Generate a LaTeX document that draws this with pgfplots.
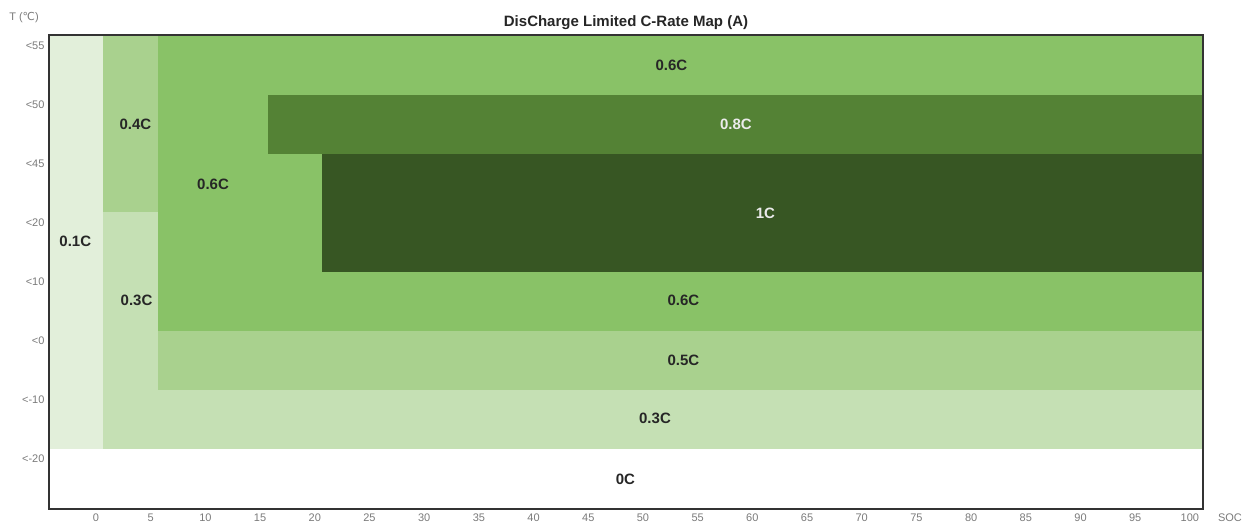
\documentclass[border=0pt]{standalone}
\usepackage{fontspec}
\setmainfont{Liberation Sans}
\newfontfamily\dejavu{DejaVu Sans}
\usepackage{pgfplots}
\pgfplotsset{compat=1.18}
\definecolor{cA}{HTML}{E2EFDA}
\definecolor{cB}{HTML}{A9D18E}
\definecolor{cC}{HTML}{C5E0B4}
\definecolor{cD}{HTML}{89C267}
\definecolor{cE}{HTML}{548235}
\definecolor{cF}{HTML}{375623}
\definecolor{tk}{HTML}{7A7A7A}
\tikzset{lab/.style={font=\fontsize{15}{18}\selectfont\bfseries, text=black!85},
         wlab/.style={font=\fontsize{15}{18}\selectfont\bfseries, text=white!92!black}}
\begin{document}
\begin{tikzpicture}[x=1pt,y=1pt]
\path[use as bounding box] (0,0) rectangle (1246,527);
\begin{axis}[
  at={(49pt,18pt)}, anchor=south west,
  scale only axis, width=1154pt, height=474pt,
  xmin=-4.3, xmax=101.2, ymin=-0.85, ymax=7.19,
  xtick={0,5,...,100}, ytick={0,1,...,7},
  yticklabels={{<-20},{<-10},{<0},{<10},{<20},{<45},{<50},{<55}},
  major tick length=0pt,
  /pgf/number format/assume math mode=true,
  tick label style={font=\fontsize{11}{13}\selectfont, text=tk},
  xticklabel style={yshift=-1pt},
  yticklabel style={xshift=-1pt},
  axis on top,
  axis line style={draw=black!80, line width=1.6pt},
  title={\fontsize{15}{18}\selectfont\bfseries DisCharge Limited C-Rate Map (A)},
  title style={text=black!85, at={(0.5,1)}, yshift=-4pt},
]
% rectangles: 0.1C column
\addplot[fill=cA, draw=none] coordinates {(-4.3,0.17) (0.6,0.17) (0.6,7.19) (-4.3,7.19)} -- cycle;
% 0.4C
\addplot[fill=cB, draw=none] coordinates {(0.6,4.18) (5.65,4.18) (5.65,7.19) (0.6,7.19)} -- cycle;
% 0.3C column and band
\addplot[fill=cC, draw=none] coordinates {(0.6,0.17) (5.65,0.17) (5.65,4.18) (0.6,4.18)} -- cycle;
\addplot[fill=cC, draw=none] coordinates {(0.6,0.17) (101.2,0.17) (101.2,1.17) (0.6,1.17)} -- cycle;
% 0.5C
\addplot[fill=cB, draw=none] coordinates {(5.65,1.17) (101.2,1.17) (101.2,2.17) (5.65,2.17)} -- cycle;
% 0.6C
\addplot[fill=cD, draw=none] coordinates {(5.65,2.17) (101.2,2.17) (101.2,7.19) (5.65,7.19)} -- cycle;
% 0.8C
\addplot[fill=cE, draw=none] coordinates {(15.7,5.17) (101.2,5.17) (101.2,6.17) (15.7,6.17)} -- cycle;
% 1C
\addplot[fill=cF, draw=none] coordinates {(20.7,3.17) (101.2,3.17) (101.2,5.17) (20.7,5.17)} -- cycle;
% labels
\node[lab] at (axis cs:52.6,6.68) {0.6C};
\node[lab] at (axis cs:3.6,5.68) {0.4C};
\node[lab] at (axis cs:10.7,4.66) {0.6C};
\node[lab] at (axis cs:-1.9,3.69) {0.1C};
\node[lab] at (axis cs:3.7,2.69) {0.3C};
\node[wlab] at (axis cs:58.5,5.68) {0.8C};
\node[wlab] at (axis cs:61.2,4.17) {1C};
\node[lab] at (axis cs:53.7,2.69) {0.6C};
\node[lab] at (axis cs:53.7,1.68) {0.5C};
\node[lab] at (axis cs:51.1,0.69) {0.3C};
\node[lab] at (axis cs:48.4,-0.34) {0C};
\end{axis}
\node[font=\fontsize{11}{13}\selectfont, text=tk] at (24,509) {T ({\dejavu ℃})};
\node[font=\fontsize{11}{13}\selectfont, text=tk] at (1230,9) {SOC};
\end{tikzpicture}
\end{document}
